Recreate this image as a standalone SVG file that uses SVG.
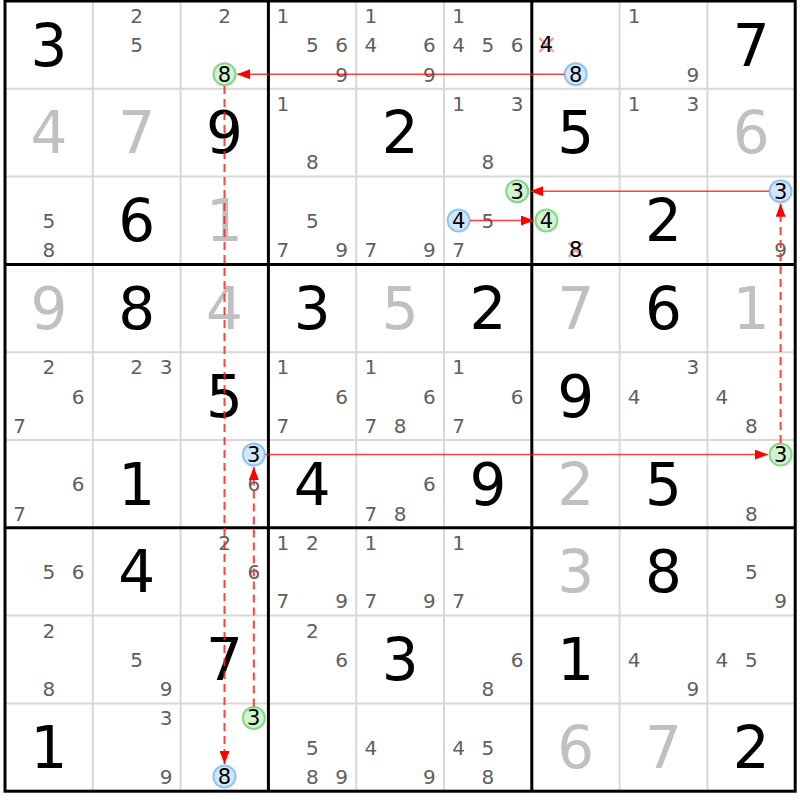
<svg xmlns="http://www.w3.org/2000/svg" width="800" height="800" viewBox="0 0 800 800">
<style>
text{font-family:"DejaVu Sans","Verdana",sans-serif;text-anchor:middle}
.g{font-size:58px;fill:#000}
.s{font-size:58px;fill:#c0c0c0}
.c{font-size:20px;fill:#5f5f5f}
.k{font-size:21px;fill:#000}
.thin{stroke:#d8d8d8;stroke-width:2}
.thick{stroke:#000;stroke-width:3}
.cg{fill:#d2f2d2;stroke:#86d886;stroke-width:2}
.cb{fill:#d2e6fc;stroke:#92c2f0;stroke-width:2}
.x{stroke:#f2a2a2;stroke-width:2.5}
.lk{stroke:#ff0000;stroke-opacity:0.75;stroke-width:1.5;fill:none}
.ld{stroke:#ff2020;stroke-opacity:0.85;stroke-width:2;stroke-dasharray:8 5;fill:none}
</style>
<defs>
<marker id="ah" markerWidth="13" markerHeight="10" refX="13" refY="5" orient="auto" markerUnits="userSpaceOnUse">
<path d="M0,0 L13,5 L0,10 z" fill="#ff0000"/>
</marker>
</defs>
<rect width="800" height="800" fill="#fff"/>
<g id="grid">
<path class="thin" d="M92.8,1V791.2M180.6,1V791.2M356.2,1V791.2M444,1V791.2M619.6,1V791.2M707.4,1V791.2M5,88.8H795.2M5,176.6H795.2M5,352.2H795.2M5,440H795.2M5,615.6H795.2M5,703.4H795.2"/>
<path class="thick" d="M268.4,1V791.2M531.8,1V791.2M5,264.4H795.2M5,527.8H795.2"/>
<rect class="thick" x="5" y="1" width="790.2" height="790.2" fill="none"/>
</g>
<!-- row 0 -->
<g id="r0c0" transform="translate(5,1)"><text class="g" x="43.9" y="64.5">3</text></g>
<g id="r0c1" transform="translate(92.8,1)"><text class="c" x="43.9" y="22.1">2</text><text class="c" x="43.9" y="51.4">5</text></g>
<g id="r0c2" transform="translate(180.6,1)"><text class="c" x="43.9" y="22.1">2</text><circle class="cg" cx="43.9" cy="73.2" r="11"/><text class="k" x="43.9" y="80.7">8</text></g>
<g id="r0c3" transform="translate(268.4,1)"><text class="c" x="14.6" y="22.1">1</text><text class="c" x="43.9" y="51.4">5</text><text class="c" x="73.2" y="51.4">6</text><text class="c" x="73.2" y="80.7">9</text></g>
<g id="r0c4" transform="translate(356.2,1)"><text class="c" x="14.6" y="22.1">1</text><text class="c" x="14.6" y="51.4">4</text><text class="c" x="73.2" y="51.4">6</text><text class="c" x="73.2" y="80.7">9</text></g>
<g id="r0c5" transform="translate(444,1)"><text class="c" x="14.6" y="22.1">1</text><text class="c" x="14.6" y="51.4">4</text><text class="c" x="43.9" y="51.4">5</text><text class="c" x="73.2" y="51.4">6</text></g>
<g id="r0c6" transform="translate(531.8,1)"><path class="x" d="M7.6,36.9L21.6,50.9M21.6,36.9L7.6,50.9"/><text class="k" x="14.6" y="51.4">4</text><circle class="cb" cx="43.9" cy="73.2" r="11"/><text class="k" x="43.9" y="80.7">8</text></g>
<g id="r0c7" transform="translate(619.6,1)"><text class="c" x="14.6" y="22.1">1</text><text class="c" x="73.2" y="80.7">9</text></g>
<g id="r0c8" transform="translate(707.4,1)"><text class="g" x="43.9" y="64.5">7</text></g>
<!-- row 1 -->
<g id="r1c0" transform="translate(5,88.8)"><text class="s" x="43.9" y="64.5">4</text></g>
<g id="r1c1" transform="translate(92.8,88.8)"><text class="s" x="43.9" y="64.5">7</text></g>
<g id="r1c2" transform="translate(180.6,88.8)"><text class="g" x="43.9" y="64.5">9</text></g>
<g id="r1c3" transform="translate(268.4,88.8)"><text class="c" x="14.6" y="22.1">1</text><text class="c" x="43.9" y="80.7">8</text></g>
<g id="r1c4" transform="translate(356.2,88.8)"><text class="g" x="43.9" y="64.5">2</text></g>
<g id="r1c5" transform="translate(444,88.8)"><text class="c" x="14.6" y="22.1">1</text><text class="c" x="73.2" y="22.1">3</text><text class="c" x="43.9" y="80.7">8</text></g>
<g id="r1c6" transform="translate(531.8,88.8)"><text class="g" x="43.9" y="64.5">5</text></g>
<g id="r1c7" transform="translate(619.6,88.8)"><text class="c" x="14.6" y="22.1">1</text><text class="c" x="73.2" y="22.1">3</text></g>
<g id="r1c8" transform="translate(707.4,88.8)"><text class="s" x="43.9" y="64.5">6</text></g>
<!-- row 2 -->
<g id="r2c0" transform="translate(5,176.6)"><text class="c" x="43.9" y="51.4">5</text><text class="c" x="43.9" y="80.7">8</text></g>
<g id="r2c1" transform="translate(92.8,176.6)"><text class="g" x="43.9" y="64.5">6</text></g>
<g id="r2c2" transform="translate(180.6,176.6)"><text class="s" x="43.9" y="64.5">1</text></g>
<g id="r2c3" transform="translate(268.4,176.6)"><text class="c" x="43.9" y="51.4">5</text><text class="c" x="14.6" y="80.7">7</text><text class="c" x="73.2" y="80.7">9</text></g>
<g id="r2c4" transform="translate(356.2,176.6)"><text class="c" x="14.6" y="80.7">7</text><text class="c" x="73.2" y="80.7">9</text></g>
<g id="r2c5" transform="translate(444,176.6)"><circle class="cg" cx="73.2" cy="14.6" r="11"/><text class="k" x="73.2" y="22.1">3</text><circle class="cb" cx="14.6" cy="43.9" r="11"/><text class="k" x="14.6" y="51.4">4</text><text class="c" x="43.9" y="51.4">5</text><text class="c" x="14.6" y="80.7">7</text></g>
<g id="r2c6" transform="translate(531.8,176.6)"><circle class="cg" cx="14.6" cy="43.9" r="11"/><text class="k" x="14.6" y="51.4">4</text><path class="x" d="M36.9,66.2L50.9,80.2M50.9,66.2L36.9,80.2"/><text class="k" x="43.9" y="80.7">8</text></g>
<g id="r2c7" transform="translate(619.6,176.6)"><text class="g" x="43.9" y="64.5">2</text></g>
<g id="r2c8" transform="translate(707.4,176.6)"><circle class="cb" cx="73.2" cy="14.6" r="11"/><text class="k" x="73.2" y="22.1">3</text><text class="c" x="73.2" y="80.7">9</text></g>
<!-- row 3 -->
<g id="r3c0" transform="translate(5,264.4)"><text class="s" x="43.9" y="64.5">9</text></g>
<g id="r3c1" transform="translate(92.8,264.4)"><text class="g" x="43.9" y="64.5">8</text></g>
<g id="r3c2" transform="translate(180.6,264.4)"><text class="s" x="43.9" y="64.5">4</text></g>
<g id="r3c3" transform="translate(268.4,264.4)"><text class="g" x="43.9" y="64.5">3</text></g>
<g id="r3c4" transform="translate(356.2,264.4)"><text class="s" x="43.9" y="64.5">5</text></g>
<g id="r3c5" transform="translate(444,264.4)"><text class="g" x="43.9" y="64.5">2</text></g>
<g id="r3c6" transform="translate(531.8,264.4)"><text class="s" x="43.9" y="64.5">7</text></g>
<g id="r3c7" transform="translate(619.6,264.4)"><text class="g" x="43.9" y="64.5">6</text></g>
<g id="r3c8" transform="translate(707.4,264.4)"><text class="s" x="43.9" y="64.5">1</text></g>
<!-- row 4 -->
<g id="r4c0" transform="translate(5,352.2)"><text class="c" x="43.9" y="22.1">2</text><text class="c" x="73.2" y="51.4">6</text><text class="c" x="14.6" y="80.7">7</text></g>
<g id="r4c1" transform="translate(92.8,352.2)"><text class="c" x="43.9" y="22.1">2</text><text class="c" x="73.2" y="22.1">3</text></g>
<g id="r4c2" transform="translate(180.6,352.2)"><text class="g" x="43.9" y="64.5">5</text></g>
<g id="r4c3" transform="translate(268.4,352.2)"><text class="c" x="14.6" y="22.1">1</text><text class="c" x="73.2" y="51.4">6</text><text class="c" x="14.6" y="80.7">7</text></g>
<g id="r4c4" transform="translate(356.2,352.2)"><text class="c" x="14.6" y="22.1">1</text><text class="c" x="73.2" y="51.4">6</text><text class="c" x="14.6" y="80.7">7</text><text class="c" x="43.9" y="80.7">8</text></g>
<g id="r4c5" transform="translate(444,352.2)"><text class="c" x="14.6" y="22.1">1</text><text class="c" x="73.2" y="51.4">6</text><text class="c" x="14.6" y="80.7">7</text></g>
<g id="r4c6" transform="translate(531.8,352.2)"><text class="g" x="43.9" y="64.5">9</text></g>
<g id="r4c7" transform="translate(619.6,352.2)"><text class="c" x="73.2" y="22.1">3</text><text class="c" x="14.6" y="51.4">4</text></g>
<g id="r4c8" transform="translate(707.4,352.2)"><text class="c" x="14.6" y="51.4">4</text><text class="c" x="43.9" y="80.7">8</text></g>
<!-- row 5 -->
<g id="r5c0" transform="translate(5,440)"><text class="c" x="73.2" y="51.4">6</text><text class="c" x="14.6" y="80.7">7</text></g>
<g id="r5c1" transform="translate(92.8,440)"><text class="g" x="43.9" y="64.5">1</text></g>
<g id="r5c2" transform="translate(180.6,440)"><circle class="cb" cx="73.2" cy="14.6" r="11"/><text class="k" x="73.2" y="22.1">3</text><text class="c" x="73.2" y="51.4">6</text></g>
<g id="r5c3" transform="translate(268.4,440)"><text class="g" x="43.9" y="64.5">4</text></g>
<g id="r5c4" transform="translate(356.2,440)"><text class="c" x="73.2" y="51.4">6</text><text class="c" x="14.6" y="80.7">7</text><text class="c" x="43.9" y="80.7">8</text></g>
<g id="r5c5" transform="translate(444,440)"><text class="g" x="43.9" y="64.5">9</text></g>
<g id="r5c6" transform="translate(531.8,440)"><text class="s" x="43.9" y="64.5">2</text></g>
<g id="r5c7" transform="translate(619.6,440)"><text class="g" x="43.9" y="64.5">5</text></g>
<g id="r5c8" transform="translate(707.4,440)"><circle class="cg" cx="73.2" cy="14.6" r="11"/><text class="k" x="73.2" y="22.1">3</text><text class="c" x="43.9" y="80.7">8</text></g>
<!-- row 6 -->
<g id="r6c0" transform="translate(5,527.8)"><text class="c" x="43.9" y="51.4">5</text><text class="c" x="73.2" y="51.4">6</text></g>
<g id="r6c1" transform="translate(92.8,527.8)"><text class="g" x="43.9" y="64.5">4</text></g>
<g id="r6c2" transform="translate(180.6,527.8)"><text class="c" x="43.9" y="22.1">2</text><text class="c" x="73.2" y="51.4">6</text></g>
<g id="r6c3" transform="translate(268.4,527.8)"><text class="c" x="14.6" y="22.1">1</text><text class="c" x="43.9" y="22.1">2</text><text class="c" x="14.6" y="80.7">7</text><text class="c" x="73.2" y="80.7">9</text></g>
<g id="r6c4" transform="translate(356.2,527.8)"><text class="c" x="14.6" y="22.1">1</text><text class="c" x="14.6" y="80.7">7</text><text class="c" x="73.2" y="80.7">9</text></g>
<g id="r6c5" transform="translate(444,527.8)"><text class="c" x="14.6" y="22.1">1</text><text class="c" x="14.6" y="80.7">7</text></g>
<g id="r6c6" transform="translate(531.8,527.8)"><text class="s" x="43.9" y="64.5">3</text></g>
<g id="r6c7" transform="translate(619.6,527.8)"><text class="g" x="43.9" y="64.5">8</text></g>
<g id="r6c8" transform="translate(707.4,527.8)"><text class="c" x="43.9" y="51.4">5</text><text class="c" x="73.2" y="80.7">9</text></g>
<!-- row 7 -->
<g id="r7c0" transform="translate(5,615.6)"><text class="c" x="43.9" y="22.1">2</text><text class="c" x="43.9" y="80.7">8</text></g>
<g id="r7c1" transform="translate(92.8,615.6)"><text class="c" x="43.9" y="51.4">5</text><text class="c" x="73.2" y="80.7">9</text></g>
<g id="r7c2" transform="translate(180.6,615.6)"><text class="g" x="43.9" y="64.5">7</text></g>
<g id="r7c3" transform="translate(268.4,615.6)"><text class="c" x="43.9" y="22.1">2</text><text class="c" x="73.2" y="51.4">6</text></g>
<g id="r7c4" transform="translate(356.2,615.6)"><text class="g" x="43.9" y="64.5">3</text></g>
<g id="r7c5" transform="translate(444,615.6)"><text class="c" x="73.2" y="51.4">6</text><text class="c" x="43.9" y="80.7">8</text></g>
<g id="r7c6" transform="translate(531.8,615.6)"><text class="g" x="43.9" y="64.5">1</text></g>
<g id="r7c7" transform="translate(619.6,615.6)"><text class="c" x="14.6" y="51.4">4</text><text class="c" x="73.2" y="80.7">9</text></g>
<g id="r7c8" transform="translate(707.4,615.6)"><text class="c" x="14.6" y="51.4">4</text><text class="c" x="43.9" y="51.4">5</text></g>
<!-- row 8 -->
<g id="r8c0" transform="translate(5,703.4)"><text class="g" x="43.9" y="64.5">1</text></g>
<g id="r8c1" transform="translate(92.8,703.4)"><text class="c" x="73.2" y="22.1">3</text><text class="c" x="73.2" y="80.7">9</text></g>
<g id="r8c2" transform="translate(180.6,703.4)"><circle class="cg" cx="73.2" cy="14.6" r="11"/><text class="k" x="73.2" y="22.1">3</text><circle class="cb" cx="43.9" cy="73.2" r="11"/><text class="k" x="43.9" y="80.7">8</text></g>
<g id="r8c3" transform="translate(268.4,703.4)"><text class="c" x="43.9" y="51.4">5</text><text class="c" x="43.9" y="80.7">8</text><text class="c" x="73.2" y="80.7">9</text></g>
<g id="r8c4" transform="translate(356.2,703.4)"><text class="c" x="14.6" y="51.4">4</text><text class="c" x="73.2" y="80.7">9</text></g>
<g id="r8c5" transform="translate(444,703.4)"><text class="c" x="14.6" y="51.4">4</text><text class="c" x="43.9" y="51.4">5</text><text class="c" x="43.9" y="80.7">8</text></g>
<g id="r8c6" transform="translate(531.8,703.4)"><text class="s" x="43.9" y="64.5">6</text></g>
<g id="r8c7" transform="translate(619.6,703.4)"><text class="s" x="43.9" y="64.5">7</text></g>
<g id="r8c8" transform="translate(707.4,703.4)"><text class="g" x="43.9" y="64.5">2</text></g>
<!-- connectors -->
<g id="links">
<path class="lk" marker-end="url(#ah)" d="M564.5,74.2H237"/>
<path class="ld" marker-end="url(#ah)" d="M224.5,86V764"/>
<path class="ld" marker-end="url(#ah)" d="M253.8,706.5V467"/>
<path class="lk" marker-end="url(#ah)" d="M265.3,454.6H768"/>
<path class="ld" marker-end="url(#ah)" d="M780.6,443V203.7"/>
<path class="lk" marker-end="url(#ah)" d="M769,191.2H530"/>
<path class="lk" marker-end="url(#ah)" d="M470,220.5H534"/>
</g>
</svg>
